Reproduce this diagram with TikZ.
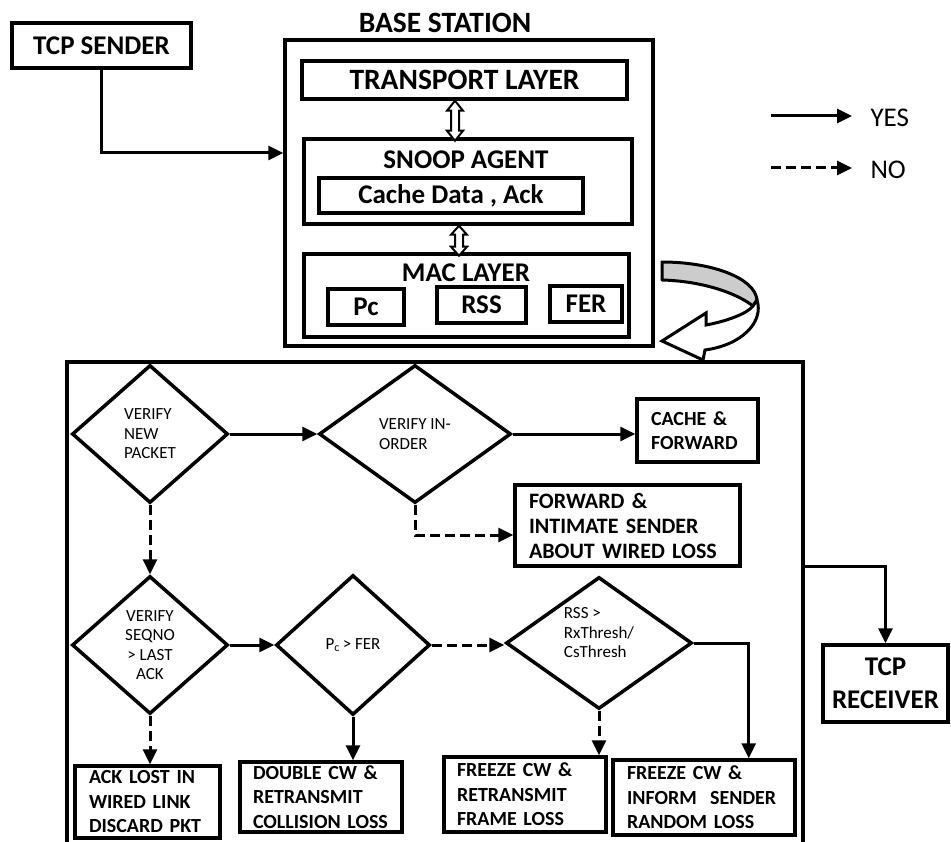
\documentclass[tikz,border=0pt]{standalone}
\usepackage{fontspec}
\setmainfont{Carlito}
\usetikzlibrary{arrows.meta,shapes.geometric,calc}
\newcommand\ftitle{\bfseries\fontsize{29.5}{33}\selectfont}
\newcommand\fbigb{\bfseries\fontsize{27}{30}\selectfont}
\newcommand\fboxt{\bfseries\fontsize{20}{24.5}\selectfont}
\newcommand\fboxl{\bfseries\fontsize{22}{25}\selectfont}
\newcommand\fdia{\fontsize{17}{19.5}\selectfont}
\newcommand\flegend{\fontsize{27}{32}\selectfont}
\newcommand\frecv{\bfseries\fontsize{27}{33}\selectfont}
\tikzset{
  bx/.style={draw, line width=3.5pt, inner sep=0pt},
  tb/.style={draw, line width=3.5pt, inner ysep=0pt, align=left, font=\fboxt},
  dm/.style={draw, diamond, line width=3.5pt, inner sep=0pt, align=left, font=\fdia},
  yes/.style={line width=3pt, -{Triangle[length=15pt,width=14pt]}},
  no/.style={yes, dash pattern=on 10pt off 5pt},
  hol/.style={line width=2pt, fill=white, line join=miter},
}
\begin{document}
\begin{tikzpicture}[x=1pt,y=-1pt]
\fill[white] (0,0) rectangle (951,842);
\useasboundingbox (0,0) rectangle (951,842);

% TCP sender
\node[bx, minimum width=179, minimum height=45, font=\fbigb] (sender) at (101.5,45.5) {TCP SENDER};

% Base station
\node[font=\ftitle] (bstitle) at (445,23) {BASE STATION};
\node[bx, minimum width=368, minimum height=306] (bs) at (469,193) {};
\node[bx, minimum width=325, minimum height=38, font=\ftitle] (tl) at (464.5,80) {TRANSPORT LAYER};
\node[bx, minimum width=328, minimum height=85] (snoop) at (468,181.5) {};
\node[font=\fbigb] (snooplbl) at (466,160) {SNOOP AGENT};
\node[bx, minimum width=264, minimum height=35, font=\fbigb] (cache) at (451,195.5) {Cache Data , Ack};
\node[bx, minimum width=325, minimum height=83] (mac) at (466.5,295.5) {};
\node[font=\fbigb] (maclbl) at (466,273) {MAC LAYER};
\node[bx, minimum width=76, minimum height=36, font=\fbigb] (pc) at (366,307) {Pc};
\node[bx, minimum width=89, minimum height=36, font=\fbigb] (rss) at (481.5,305) {RSS};
\node[bx, minimum width=72, minimum height=36, font=\fbigb] (fer) at (586,304) {FER};

% hollow double arrows
\draw[hol] ([xshift=-9.5pt]tl.south) -- ++(8,10) -- ++(-4,0) -- ++(0,20) -- ++(4,0) -- ++(-8,10)
  -- ++(-8,-10) -- ++(4,0) -- ++(0,-20) -- ++(-4,0) -- cycle;
\draw[hol] ([xshift=-9pt]snoop.south) -- ++(8,9) -- ++(-4,0) -- ++(0,12) -- ++(4,0) -- ++(-8,9)
  -- ++(-8,-9) -- ++(4,0) -- ++(0,-12) -- ++(-4,0) -- cycle;

\draw[yes] (sender.south) |- ([yshift=40pt]bs.west);

% legend
\coordinate (ya) at (771,116);
\coordinate (yb) at (852,116);
\coordinate (na) at (771,168);
\coordinate (nb) at (852,168);
\draw[yes] (ya) -- (yb);
\draw[no] (na) -- (nb);
\node[font=\flegend, anchor=west] (yeslbl) at (867,118) {YES};
\node[font=\flegend, anchor=west] (nolbl) at (867,170) {NO};

% curved arrow
\filldraw[fill=gray!40, line width=3pt, line join=round] (662,262) .. controls (712,262) and (755,278) .. (757,300)
  -- (753,306) .. controls (735,292) and (700,281) .. (662,280) -- cycle;
\filldraw[fill=white, line width=3pt, line join=miter] (757,300) .. controls (764,322) and (742,345) .. (705,350)
  -- (703,360) -- (662,341) -- (706,313) -- (706,325) .. controls (728,321) and (748,313) .. (753,306) -- cycle;

% big box
\node[bx, minimum width=736, minimum height=498] (big) at (435,611) {};

% diamonds
\node[dm, minimum width=156, minimum height=138] (d1) at (150,434) {VERIFY\\NEW\\PACKET};
\node[dm, minimum width=192, minimum height=138] (d2) at (415,434) {VERIFY IN-\\ORDER};
\node[dm, minimum width=156, minimum height=138, align=center] (d3) at (150,645) {VERIFY\\SEQNO\\> LAST\\ACK};
\node[dm, minimum width=154, minimum height=140] (d4) at (353,645) {P\textsubscript{c}\,> FER};
\node[dm, minimum width=186, minimum height=132,
  label={[yshift=10pt, align=left, font=\fdia]center:RSS >\\RxThresh/\\CsThresh}] (d5) at (599,643) {};

% boxes
\node[tb, inner xsep=14pt, text width=93pt, minimum height=63] (cf) at (697.5,430.5) {CACHE \&\\FORWARD};
\node[tb, font=\fboxl, inner xsep=14pt, text width=197pt, minimum height=81] (fwd) at (627.5,525.5) {FORWARD \&\\\mbox{INTIMATE SENDER}\\\mbox{ABOUT WIRED LOSS}};
\node[tb, inner xsep=14pt, text width=117pt, minimum height=72] (ack) at (147.5,802) {\mbox{ACK LOST IN}\\\mbox{WIRED LINK}\\\mbox{DISCARD PKT}};
\node[tb, inner xsep=13pt, text width=136pt, minimum height=70] (dbl) at (321,797) {\mbox{DOUBLE CW \&}\\RETRANSMIT\\\mbox{COLLISION LOSS}};
\node[tb, inner xsep=13pt, text width=136pt, minimum height=75] (frm) at (525,794.5) {\mbox{FREEZE CW \&}\\RETRANSMIT\\\mbox{FRAME LOSS}};
\node[tb, inner xsep=14pt, text width=154pt, minimum height=75] (inf) at (704,797.5) {\mbox{FREEZE CW \&}\\\mbox{INFORM\ \ SENDER}\\\mbox{RANDOM LOSS}};
\node[bx, minimum width=125, minimum height=77, align=center, font=\frecv] (recv) at (885.5,683.5) {TCP\\RECEIVER};

% connectors
\draw[yes] (d1.east) -- (d2.west);
\draw[yes] (d2.east) -- (d2.east -| cf.west);
\draw[no] (d2.south) |- ([yshift=-9.5pt]fwd.west);
\draw[no] (d1.south) -- (d3.north);
\draw[yes] (d3.east) -- (d4.west);
\draw[no] (d4.east) -- (d4.east -| d5.west);
\draw[no] (d3.south) -- (d3.south |- ack.north);
\draw[yes] (d4.south) -- (d4.south |- dbl.north);
\draw[no] (d5.south) -- (d5.south |- frm.north);
\draw[yes] (d5.east) -| ([xshift=-48pt]inf.north east);
\draw[yes] ([yshift=45pt]big.east) -| (recv.north);
\end{tikzpicture}
\end{document}
